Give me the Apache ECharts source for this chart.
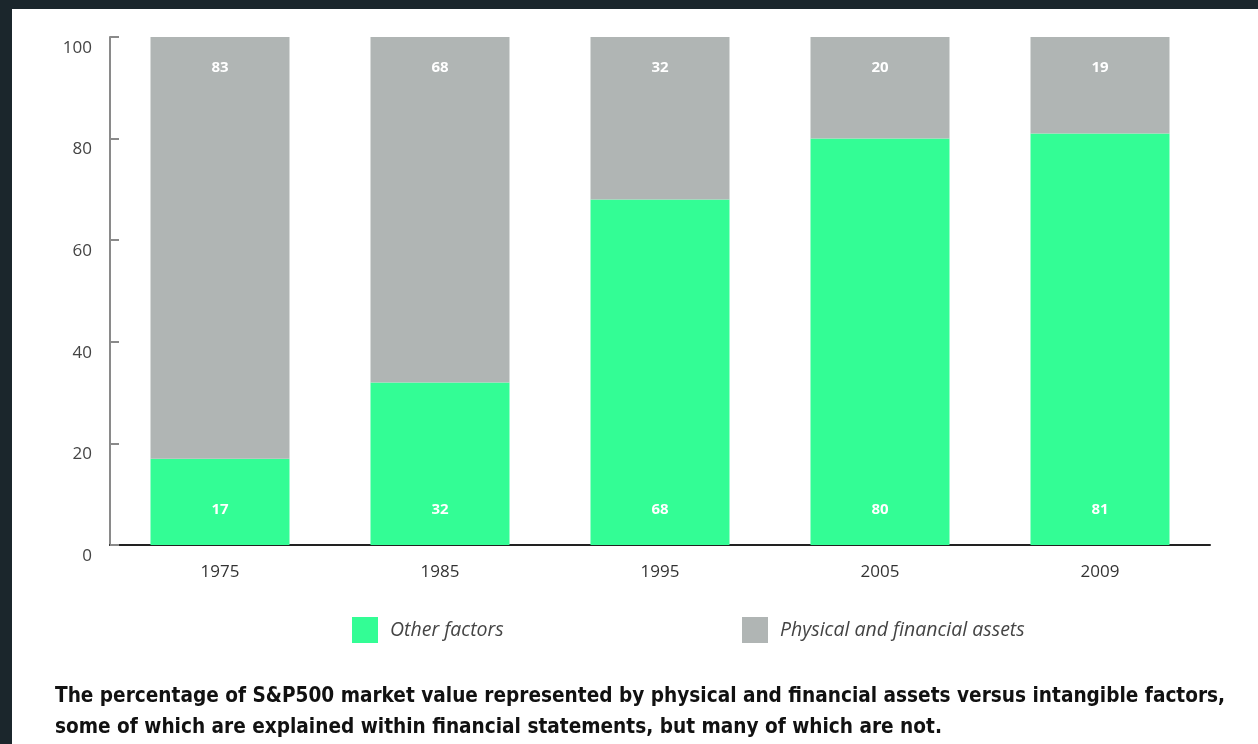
<!DOCTYPE html>
<html>
<head>
<meta charset="utf-8">
<script src="https://cdn.jsdelivr.net/npm/echarts@6/dist/echarts.min.js"></script>
<style>
  html, body { margin: 0; padding: 0; background: #ffffff; }
  #chart { width: 1258px; height: 744px; }
</style>
</head>
<body>
<div id="chart"></div>
<script>
const years = ['1975', '1985', '1995', '2005', '2009'];
const otherFactors = [17, 32, 68, 80, 81];
const physicalAssets = [83, 68, 32, 20, 19];
const yTicks = [0, 20, 40, 60, 80, 100];
const seriesNames = ['Other factors', 'Physical and financial assets'];
const captionLines = [
  'The percentage of S&P500 market value represented by physical and financial assets versus intangible factors,',
  'some of which are explained within financial statements, but many of which are not.'
];

const GREEN = '#33fd95';
const GRAY = '#b0b5b4';
const FRAME = '#1b262c';
const baseFont = '"Open Sans", "Noto Sans", sans-serif';

const chart = echarts.init(document.getElementById('chart'), null, { renderer: 'canvas' });

const legendText = {
  fontFamily: baseFont, fontStyle: 'italic', fontSize: 19.5, color: '#444',
  padding: [0, 0, 0, 7]
};

const option = {
  backgroundColor: '#ffffff',
  animation: false,
  grid: { left: 110, right: 48, top: 37, bottom: 199, containLabel: false },
  legend: [
    {
      data: [seriesNames[0]],
      left: 352, top: 617, padding: 0,
      itemWidth: 26, itemHeight: 26, itemGap: 12,
      textStyle: legendText,
      icon: 'rect'
    },
    {
      data: [seriesNames[1]],
      left: 742, top: 617, padding: 0,
      itemWidth: 26, itemHeight: 26, itemGap: 12,
      textStyle: legendText,
      icon: 'rect'
    }
  ],
  xAxis: {
    type: 'category',
    data: years,
    axisLine: { show: true, lineStyle: { color: '#222', width: 2 } },
    axisTick: { show: false },
    axisLabel: { fontFamily: baseFont, fontSize: 17, color: '#333', margin: 19 }
  },
  yAxis: {
    type: 'value',
    min: yTicks[0],
    max: yTicks[yTicks.length - 1],
    interval: yTicks[1] - yTicks[0],
    splitLine: { show: false },
    axisLine: { show: true, lineStyle: { color: '#8a8a8a', width: 2 } },
    axisTick: { show: true, inside: true, length: 9, lineStyle: { color: '#8a8a8a', width: 2 } },
    axisLabel: {
      fontFamily: baseFont, fontSize: 17, color: '#444', margin: 18,
      verticalAlign: 'top', lineHeight: 22
    }
  },
  series: [
    {
      name: seriesNames[0],
      type: 'bar',
      stack: 'total',
      data: otherFactors,
      barWidth: 139,
      itemStyle: { color: GREEN },
      label: {
        show: true, position: 'insideBottom', distance: 28,
        color: '#ffffff', fontWeight: 'bold', fontSize: 15, fontFamily: baseFont
      }
    },
    {
      name: seriesNames[1],
      type: 'bar',
      stack: 'total',
      data: physicalAssets,
      barWidth: 139,
      itemStyle: { color: GRAY },
      label: {
        show: true, position: 'insideTop', distance: 23,
        color: '#ffffff', fontWeight: 'bold', fontSize: 15, fontFamily: baseFont
      }
    }
  ],
  graphic: [
    { type: 'rect', left: 0, top: 0, shape: { width: 1258, height: 9 }, style: { fill: FRAME }, silent: true },
    { type: 'rect', left: 0, top: 0, shape: { width: 12, height: 744 }, style: { fill: FRAME }, silent: true },
    { type: 'rect', left: 110, top: 36, shape: { width: 9, height: 2 }, style: { fill: '#8a8a8a' }, silent: true },
    {
      type: 'text', left: 55, top: 681,
      style: {
        text: captionLines.join('\n'),
        fontFamily: '"DejaVu Sans Condensed", "Liberation Sans Narrow", sans-serif',
        fontSize: 20.6, fontWeight: 'bold', lineHeight: 31, fill: '#111'
      }
    }
  ]
};

chart.setOption(option);
</script>
</body>
</html>
